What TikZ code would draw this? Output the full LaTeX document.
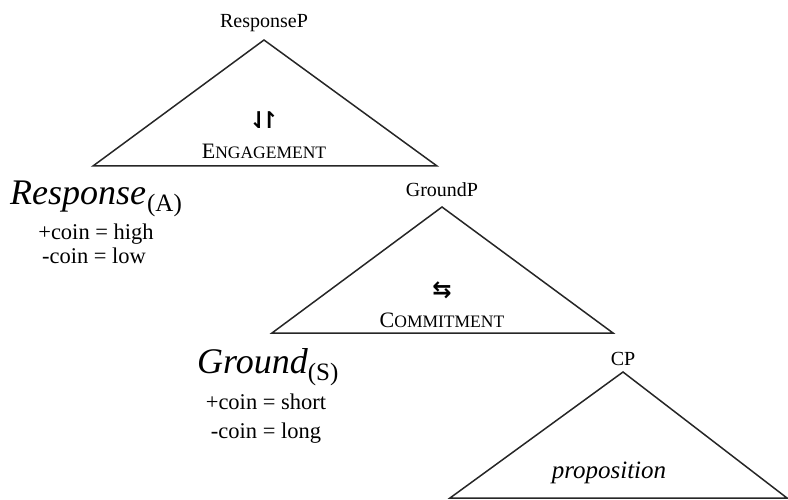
\documentclass[tikz,border=0pt]{standalone}
\usepackage{fontspec}
\setmainfont{Liberation Serif}
\newfontfamily\arrowfont{DejaVu Sans}
\begin{document}
\begin{tikzpicture}[x=1pt,y=-1pt,
  lbl/.style={anchor=base,inner sep=0pt,font=\fontsize{20}{22}\selectfont},
  sc/.style={anchor=base,inner sep=0pt,font=\fontsize{22}{24}\selectfont},
  arr/.style={anchor=base,inner sep=0pt,font=\fontsize{23}{25}\selectfont\arrowfont\bfseries},
  big/.style={anchor=base west,inner sep=0pt,font=\fontsize{36}{38}\selectfont\itshape},
  val/.style={anchor=base,inner sep=0pt,font=\fontsize{22.5}{24}\selectfont},
  tri/.style={draw=black!85,line width=1.5pt,line join=miter}]
\useasboundingbox (0,0) rectangle (788,500);
% ResponseP triangle
\coordinate (r1) at (264,40);
\coordinate (r2) at (93,166);
\coordinate (r3) at (437,166);
\draw[tri] (r2) -- (r1) -- (r3) -- cycle;
\node[lbl] (resP) at (264,28) {ResponseP};
\node[arr] (harp) at (264,129) {⇃\kern-9pt↾};
\node[sc] (eng) at (264,159) {E{\fontsize{17.5}{19}\selectfont NGAGEMENT}};
% GroundP triangle
\coordinate (g1) at (442,207);
\coordinate (g2) at (272,333);
\coordinate (g3) at (613,333);
\draw[tri] (g2) -- (g1) -- (g3) -- cycle;
\node[lbl] (grP) at (442,197) {GroundP};
\node[arr] (lr) at (442,297) {⇆};
\node[sc] (com) at (442,327) {C{\fontsize{17.5}{19}\selectfont OMMITMENT}};
% CP triangle
\coordinate (c1) at (623,372);
\coordinate (c2) at (450,498);
\coordinate (c3) at (787,498);
\draw[tri] (c2) -- (c1) -- (c3) -- cycle;
\node[lbl] (cp) at (623,365) {CP};
\node[lbl,font=\fontsize{25}{27}\selectfont\itshape] (prop) at (609,478) {proposition};
% Response head
\node[big] (resp) at (10,205) {Response\hspace{1pt}\raisebox{-7pt}{\upshape\fontsize{25}{27}\selectfont(A)}};
\node[val] (rhi) at (96,240) {+coin = high};
\node[val] (rlo) at (94,264) {-coin = low};
% Ground head
\node[big] (gr) at (197,373) {Ground\raisebox{-7pt}{\upshape\fontsize{25}{27}\selectfont(S)}};
\node[val] (gsh) at (266,409) {+coin = short};
\node[val] (glo) at (266,438) {-coin = long};
\end{tikzpicture}
\end{document}
